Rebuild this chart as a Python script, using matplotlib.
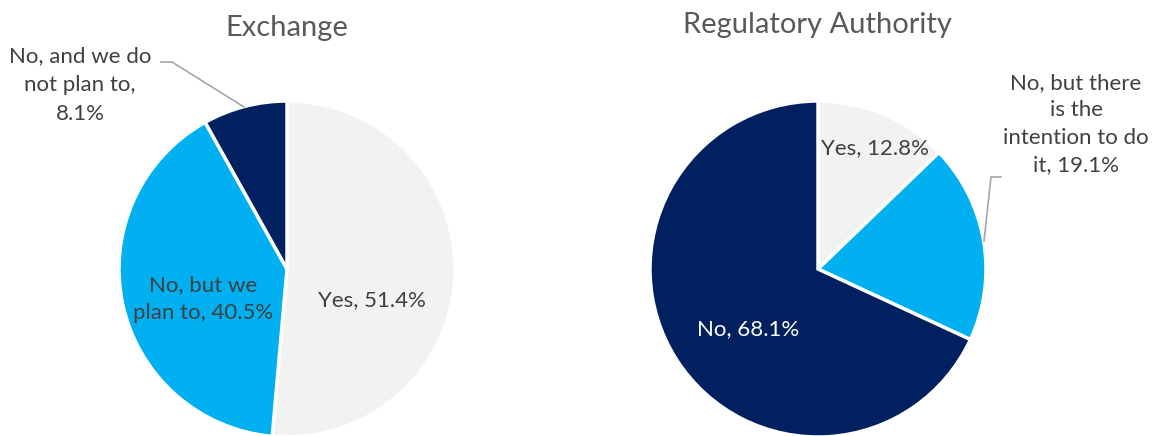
import matplotlib
matplotlib.use('Agg')
import matplotlib.pyplot as plt

plt.rcParams['font.family'] = ['Lato', 'DejaVu Sans']

# data
exchange_labels = ['Yes, 51.4%', 'No, but we\nplan to, 40.5%', 'No, and we do\nnot plan to,\n8.1%']
exchange_values = [51.4, 40.5, 8.1]
reg_labels = ['Yes, 12.8%', 'No, but there\nis the\nintention to do\nit, 19.1%', 'No, 68.1%']
reg_values = [12.8, 19.1, 68.1]
colors = ['#F2F2F2', '#00B0F0', '#002060']

W, H = 1159, 436
R = 168
TXT = '#404040'
LEAD = '#A6A6A6'
fs = 16
ls = 1.55

fig = plt.figure(figsize=(W / 100, H / 100), dpi=100)

# left pie, axes in pixel units around pie center
ax1 = fig.add_axes([0, 0, 0.5, 1])
ax1.pie(exchange_values, colors=colors, radius=R, startangle=90, counterclock=False,
        wedgeprops=dict(edgecolor='white', linewidth=2.5), frame=True)
ax1.axis('off')
ax1.set_xlim(-287, W / 2 - 287)
ax1.set_ylim(-(H - 269), 269)
ax1.text(0, 241, 'Exchange', ha='center', va='center', fontsize=21, color='#595959')
ax1.text(85, -31, exchange_labels[0], ha='center', va='center', fontsize=fs, color=TXT)
ax1.text(-84, -30, exchange_labels[1], ha='center', va='center', fontsize=fs, color=TXT, linespacing=ls)
ax1.text(-207, 184, exchange_labels[2], ha='center', va='center', fontsize=fs, color=TXT, linespacing=ls)
ax1.plot([-126, -115, -43], [207, 207, 162], color=LEAD, linewidth=1.2, clip_on=False)

# right pie
ax2 = fig.add_axes([0.5, 0, 0.5, 1])
ax2.pie(reg_values, colors=colors, radius=R, startangle=90, counterclock=False,
        wedgeprops=dict(edgecolor='white', linewidth=2.5), frame=True)
ax2.axis('off')
ax2.set_xlim(-(818 - W / 2), W - 818)
ax2.set_ylim(-(H - 269), 269)
ax2.text(-1, 244, 'Regulatory Authority', ha='center', va='center', fontsize=21, color='#595959')
ax2.text(57, 121, reg_labels[0], ha='center', va='center', fontsize=fs, color=TXT)
ax2.text(258, 145, reg_labels[1], ha='center', va='center', fontsize=fs, color=TXT, linespacing=1.45)
ax2.text(-70, -60, reg_labels[2], ha='center', va='center', fontsize=fs, color='white')
ax2.plot([183, 173, 166], [92, 92, 28], color=LEAD, linewidth=1.2, clip_on=False)

fig.savefig('out.png', dpi=100)
